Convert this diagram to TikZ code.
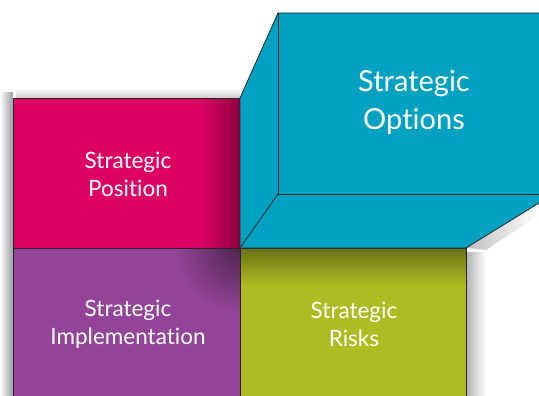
\documentclass[tikz,border=0pt]{standalone}
\usepackage{fontspec}
\setmainfont{Lato}[Ligatures={NoCommon,NoContextual}]
\usetikzlibrary{fadings}
\definecolor{cpink}{RGB}{220,0,98}
\definecolor{cpurple}{RGB}{148,68,152}
\definecolor{cgreen}{RGB}{174,188,35}
\definecolor{cblue}{RGB}{0,161,193}
\definecolor{cedge}{RGB}{40,40,40}
\definecolor{cshadow}{RGB}{150,156,162}
\tikzfading[name=cornerfade, inner color=transparent!0, outer color=transparent!100]
\tikzset{
  face/.style={draw=cedge, line width=0.8pt},
  lbl/.style={text=white, align=center, font=\fontsize{22.5}{28}\selectfont},
  biglbl/.style={text=white, align=center, font=\fontsize{29}{38}\selectfont},
}
\begin{document}
\begin{tikzpicture}[x=1pt,y=-1pt]
\useasboundingbox (0,0) rectangle (539,396);
% shadows
\fill[cshadow, path fading=west] (0,92) rectangle (13,396);
\fill[black!30, path fading=east] (466,252) rectangle (486,396);
\fill[black!25, path fading=east] (466,248) -- (539,203) -- (539,215) -- (486,250) -- cycle;
\fill[black!20, path fading=north] (16,88) rectangle (240,98);
% pink
\fill[cpink] (13,98) rectangle (240,248);
\fill[black, opacity=0.35, path fading=west] (200,98) rectangle (240,248);
% purple
\fill[cpurple] (13,248) rectangle (240,396);
\begin{scope}
\clip (13,248) rectangle (240,396);
\fill[black, opacity=0.45, path fading=cornerfade] (240,248) circle[radius=65];
\end{scope}
% green
\fill[cgreen] (240,248) rectangle (466,396);
\fill[black, opacity=0.4, path fading=south] (240,248) rectangle (466,285);
% borders
\draw[face] (13,98) rectangle (240,248);
\draw[face] (13,248) rectangle (240,396);
\draw[face] (240,248) rectangle (466,396);
% blue box
\fill[cblue] (240,98) -- (278,13) -- (539,13) -- (539,203) -- (466,248) -- (240,248) -- cycle;
\draw[face] (240,248) -- (240,98) -- (278,13) -- (539,13);
\draw[face] (539,203) -- (466,248) -- (240,248);
\draw[face] (278,13) -- (278,194) -- (539,194);
\draw[face] (278,194) -- (240,248);
% labels
\node[lbl] (pos) at (128,174) {Strategic\\Position};
\node[lbl] (imp) at (128,324) {Strategic\\Implementation};
\node[lbl] (risk) at (354,324) {Strategic\\Risks};
\node[biglbl] (opt) at (414,102) {Strategic\\Options};
\end{tikzpicture}
\end{document}
